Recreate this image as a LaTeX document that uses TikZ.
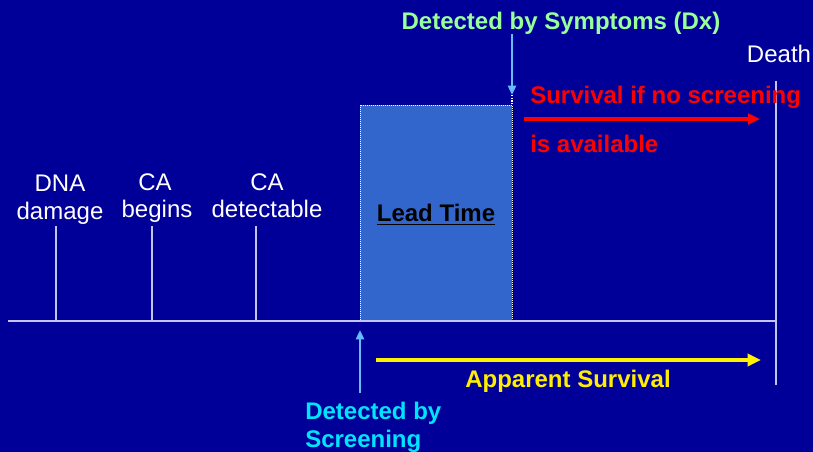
\documentclass[tikz,border=0pt]{standalone}
\usepackage{fontspec}
\setmainfont{Liberation Sans}
\usetikzlibrary{arrows.meta}
\definecolor{bg}{HTML}{000099}
\definecolor{axiscol}{HTML}{C4C4F0}
\definecolor{boxfill}{HTML}{3366CC}
\definecolor{arrowblue}{HTML}{66BBFF}
\definecolor{symgreen}{HTML}{99FF99}
\definecolor{scrcyan}{HTML}{00E5FF}
\definecolor{appyellow}{HTML}{FFEE00}
\begin{document}
\begin{tikzpicture}[x=0.75pt,y=-0.75pt,
  lbl/.style={font=\fontsize{18}{21.6}\selectfont, inner sep=0pt, anchor=base, text=white},
  blbl/.style={lbl, font=\fontsize{18}{21.6}\selectfont\bfseries},
  axisline/.style={draw=axiscol, line width=1.1pt},
  tickline/.style={draw=axiscol, line width=1pt},
  bluearrow/.style={draw=arrowblue, line width=2pt, -{Triangle[length=7pt,width=6pt]}},
  redarrow/.style={draw=red, line width=2.4pt, -{Triangle[length=9pt,width=8pt]}},
  yelarrow/.style={draw=yellow, line width=3pt, -{Triangle[length=10pt,width=9pt]}}]
\fill[bg] (0,0) rectangle (813,452);
\useasboundingbox (0,0) rectangle (813,452);

% lead time box
\filldraw[fill=boxfill, draw=white!85, densely dotted, line width=0.5pt] (360,105) rectangle (512,321);
\node[blbl, text=black] (leadtxt) at (436,222) {\underline{Lead Time}};

% timeline
\coordinate (tl) at (8,321);
\coordinate (tr) at (776,321);
\draw[axisline] (tl) -- (tr);

% ticks
\coordinate (t1a) at (56,226);  \coordinate (t1b) at (56,321);
\coordinate (t2a) at (152,226); \coordinate (t2b) at (152,321);
\coordinate (t3a) at (256,226); \coordinate (t3b) at (256,321);
\draw[tickline] (t1a) -- (t1b);
\draw[tickline] (t2a) -- (t2b);
\draw[tickline] (t3a) -- (t3b);

% death line
\coordinate (da) at (776,81);
\coordinate (db) at (776,385);
\draw[tickline] (da) -- (db);
\node[lbl] (death) at (779,63) {Death};

% tick labels
\node[lbl] (dna1) at (60,192) {DNA};
\node[lbl] (dna2) at (60,220) {damage};
\node[lbl] (cab1) at (155,191) {CA};
\node[lbl] (cab2) at (157,218) {begins};
\node[lbl] (cad1) at (267,191) {CA};
\node[lbl] (cad2) at (267,218) {detectable};

% detected by symptoms
\node[blbl, text=symgreen] (sym) at (561,30) {Detected by Symptoms (Dx)};
\coordinate (syma) at (512,34);
\coordinate (symb) at (512,95);
\coordinate (symc) at (512,105);
\draw[bluearrow] (syma) -- (symb);
\draw[white, densely dotted, line width=1pt] (symb) -- (symc);

% survival if no screening
\node[blbl, text=red, anchor=base west] (surv1) at (530,104) {Survival if no screening};
\node[blbl, text=red, anchor=base west] (surv2) at (530,153) {is available};
\coordinate (ra) at (524,119);
\coordinate (rb) at (760,119);
\draw[redarrow] (ra) -- (rb);

% detected by screening
\coordinate (sa) at (360,393);
\coordinate (sb) at (360,330);
\draw[bluearrow] (sa) -- (sb);
\node[blbl, text=scrcyan, anchor=base west] (scr1) at (305,419) {Detected by};
\node[blbl, text=scrcyan, anchor=base west] (scr2) at (305,447) {Screening};

% apparent survival
\coordinate (ya) at (376,360);
\coordinate (yb) at (761,360);
\draw[yelarrow] (ya) -- (yb);
\node[blbl, text=appyellow] (app) at (568,387) {Apparent Survival};
\end{tikzpicture}
\end{document}
